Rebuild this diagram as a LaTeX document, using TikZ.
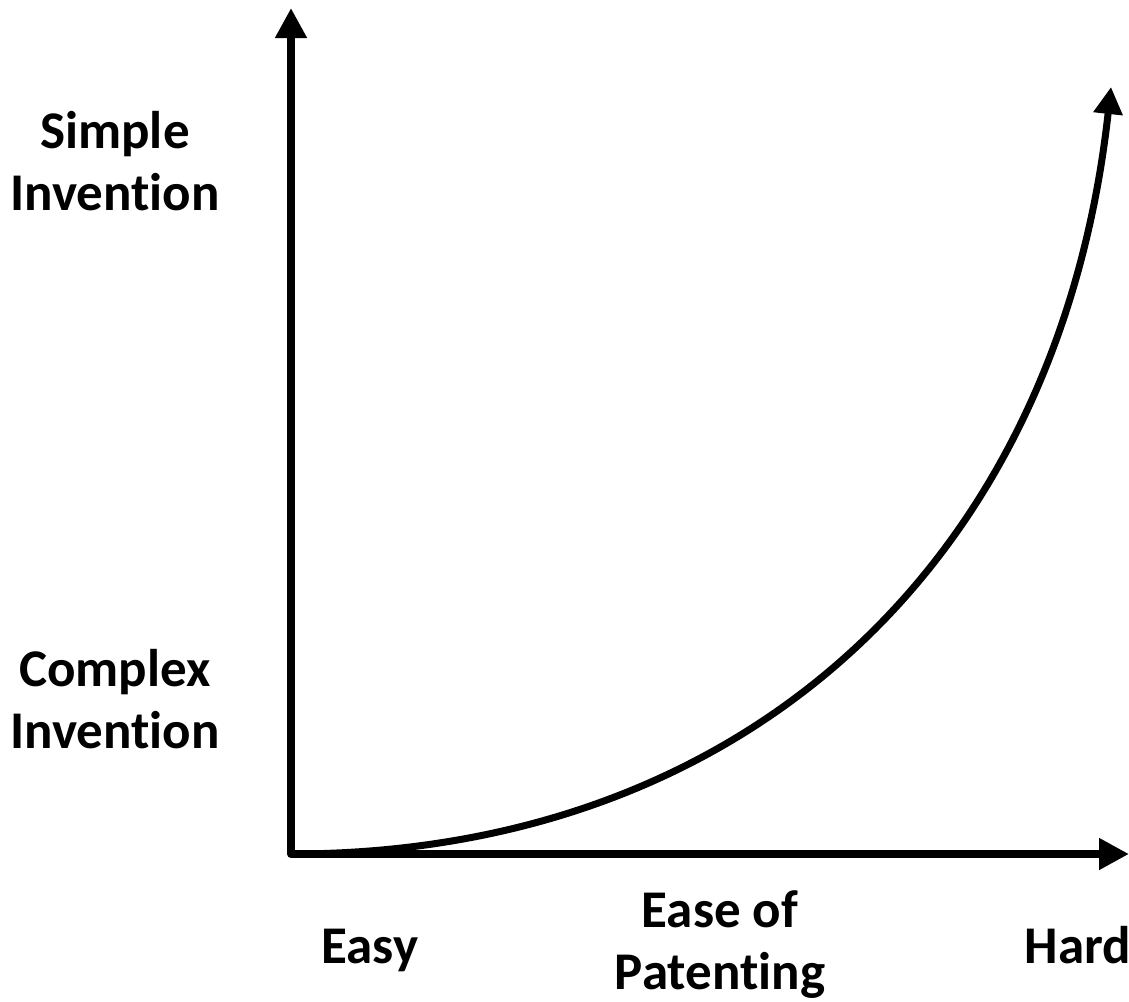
\documentclass[tikz,border=0pt]{standalone}
\usepackage{fontspec}
\setmainfont{Carlito}[Ligatures=NoCommon]
\usetikzlibrary{arrows.meta}

\begin{document}
\begin{tikzpicture}[x=1pt,y=-1pt,
  axis/.style={line width=8pt,line join=round,{Triangle[width=30pt,length=30pt]}-{Triangle[width=30pt,length=30pt]}},
  curve/.style={line width=7pt,-{Triangle[width=28pt,length=27pt]}},
  lbl/.style={align=center,font=\bfseries\fontsize{53}{62}\selectfont,inner sep=0pt}]
\useasboundingbox (0,0) rectangle (1129,1001);
\coordinate (origin) at (291,854);
\coordinate (ytip) at (291,8);
\coordinate (xtip) at (1129,854);
\coordinate (ctip) at (1111,87);
\draw[axis] (ytip) -- (origin) -- (xtip);
\draw[curve] (origin) .. controls (740,854) and (1058,567) .. (ctip);
  \foreach \txt/\nm/\ypos in {{Simple\\Invention}/simple/161,{Complex\\Invention}/complex/699}
  {  \node [lbl] (\nm) at (115,\ypos) {\txt};}
\node [lbl,anchor=base] (easy) at (370,963) {Easy};
\node [lbl,anchor=base] (hard) at (1078,963) {Hard};
\node [lbl] (ease) at (720,945) {Ease of\\Patenting};
\end{tikzpicture}
\end{document}
